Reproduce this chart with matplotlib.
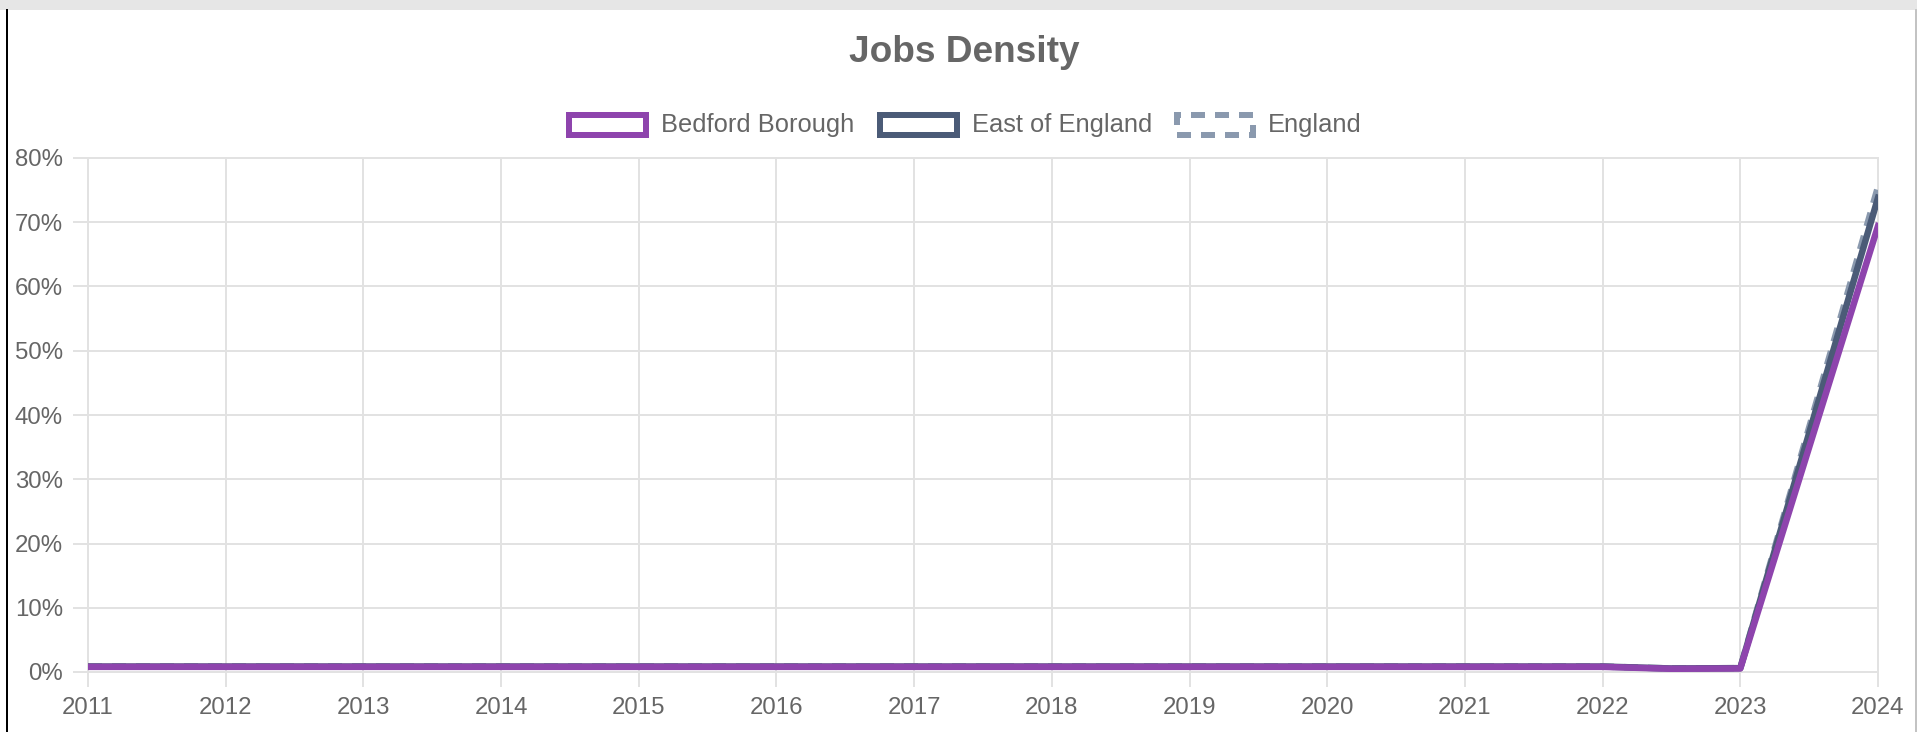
import numpy as np
import matplotlib
matplotlib.use('Agg')
import matplotlib.pyplot as plt
from matplotlib.patches import Rectangle
from matplotlib.lines import Line2D

plt.rcParams['font.family'] = ['Liberation Sans', 'DejaVu Sans']
plt.rcParams['lines.scale_dashes'] = False

# ---------------- data ----------------
years = [2011, 2012, 2013, 2014, 2015, 2016, 2017, 2018, 2019, 2020,
         2021, 2022, 2022.5, 2023, 2024]
bedford = [0.8, 0.8, 0.8, 0.8, 0.8, 0.8, 0.8, 0.8, 0.8, 0.8,
           0.8, 0.8, 0.5, 0.55, 69.4]
east = [0.85, 0.85, 0.85, 0.85, 0.85, 0.85, 0.85, 0.85, 0.85, 0.85,
        0.85, 0.85, 0.55, 0.6, 73.8]
england = [0.85, 0.85, 0.85, 0.85, 0.85, 0.85, 0.85, 0.85, 0.85, 0.85,
           0.85, 0.85, 0.55, 0.6, 75.5]
series_names = ['Bedford Borough', 'East of England', 'England']
x_ticks = [2011, 2012, 2013, 2014, 2015, 2016, 2017, 2018, 2019, 2020,
           2021, 2022, 2023, 2024]
y_ticks = [0, 10, 20, 30, 40, 50, 60, 70, 80]

# ---------------- styling ----------------
W, H, DPI = 1917, 732, 100
PT = 72.0 / DPI              # points per pixel
purple = '#8e44ad'
slate = '#4b5b77'
light_slate = '#8a99ae'
grid_c = '#e2e2e2'
text_c = '#666666'
lw = 6.5 * PT
dash = (14 * PT, 10 * PT)

fig = plt.figure(figsize=(W / DPI, H / DPI), dpi=DPI)
fig.patch.set_facecolor('white')

# plot area in pixels: x 88..1878, y 158..672
L, R, T, B = 88, 1878, 158, 672
ax = fig.add_axes([L / W, 1 - B / H, (R - L) / W, (B - T) / H])

# chart.js draws the first dataset on top
ax.plot(years, england, color=light_slate, lw=lw, linestyle=(0, dash), zorder=3)
ax.plot(years, east, color=slate, lw=lw, zorder=4)
ax.plot(years, bedford, color=purple, lw=lw, zorder=5)

ax.set_xlim(2011, 2024)
ax.set_ylim(0, 80)
ax.set_xticks(x_ticks)
ax.set_xticklabels([str(y) for y in x_ticks])
ax.set_yticks(y_ticks)
ax.set_yticklabels([f'{v}%' for v in y_ticks])
ax.grid(True, color=grid_c, lw=2 * PT, zorder=0)
ax.set_axisbelow(True)
for s in ax.spines.values():
    s.set_color(grid_c)
    s.set_linewidth(2 * PT)
ax.tick_params(axis='both', length=15 * PT, width=2 * PT, color=grid_c,
               labelcolor=text_c, labelsize=24 * PT)
ax.tick_params(axis='y', pad=10 * PT)
ax.tick_params(axis='x', pad=10 * PT)

# title
fig.text(964 / W, 1 - 52 / H, 'Jobs Density', ha='center', va='center',
         fontsize=37 * PT, fontweight='bold', color=text_c)

# legend (boxes + labels)
leg_items = [
    (566, 649, 661, purple, 'solid'),
    (877, 960, 972, slate, 'solid'),
    (1174, 1256, 1268, light_slate, (0, dash)),
]
by0, by1 = 112, 138
for (bx0, bx1, tx, col, ls), name in zip(leg_items, series_names):
    h = 3
    rect = Rectangle(((bx0 + h) / W, 1 - (by1 - h) / H),
                     (bx1 - bx0 - 2 * h) / W, (by1 - by0 - 2 * h) / H,
                     transform=fig.transFigure, facecolor='white',
                     edgecolor=col, lw=6 * PT, linestyle=ls)
    fig.add_artist(rect)
    fig.text(tx / W, 1 - 125 / H, name, ha='left', va='center',
             fontsize=25.5 * PT, color=text_c)

# page frame: grey band on top, borders left and right
fig.add_artist(Rectangle((0, 1 - 10 / H), 1, 10 / H, transform=fig.transFigure,
                         facecolor='#e6e6e6', edgecolor='none'))
fig.add_artist(Line2D([6.5 / W, 6.5 / W], [0, 1 - 10 / H], transform=fig.transFigure,
                      color='black', lw=2 * PT))
fig.add_artist(Line2D([1915.5 / W, 1915.5 / W], [0, 1 - 10 / H], transform=fig.transFigure,
                      color='#b0b0b0', lw=1.5 * PT))

fig.savefig('out.png', dpi=DPI)
